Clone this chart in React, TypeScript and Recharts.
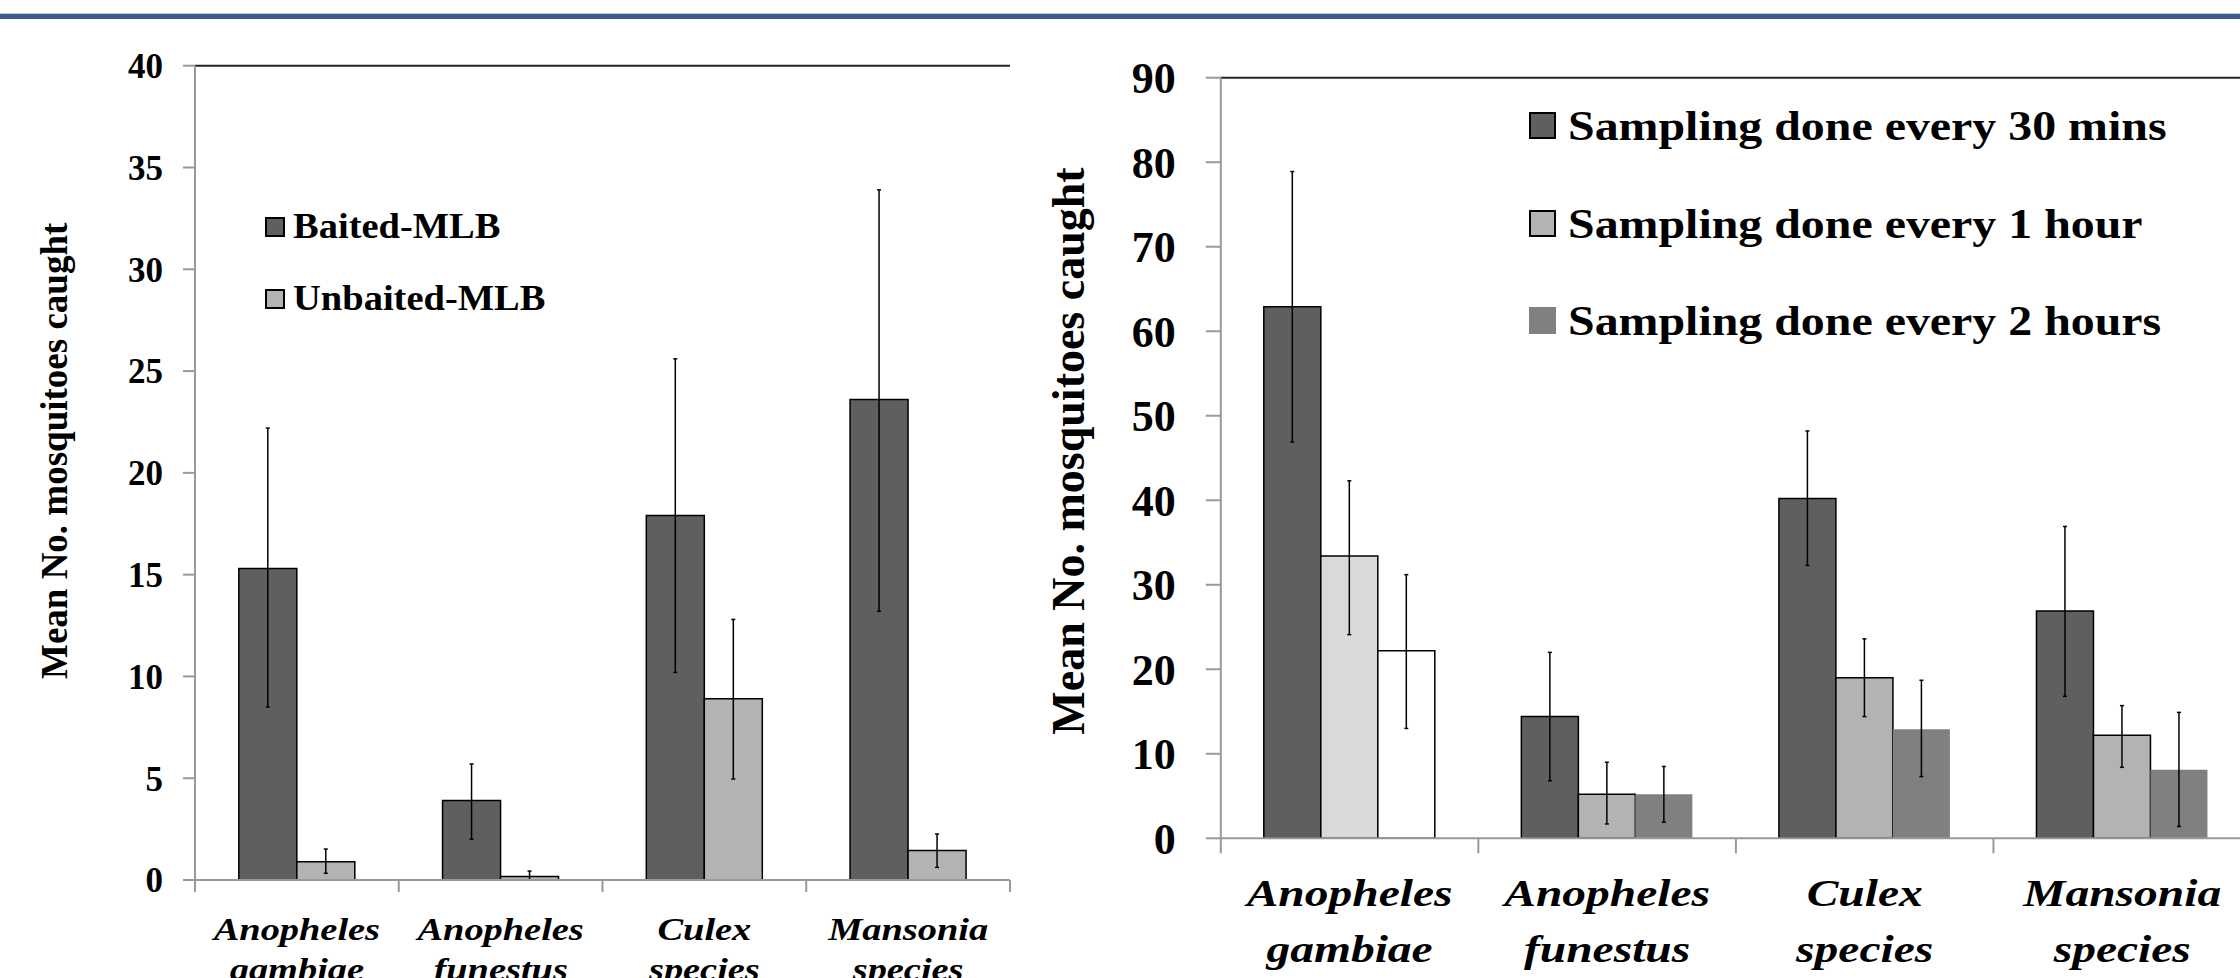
import React from 'react';
import { BarChart, Bar, XAxis, YAxis, ErrorBar, Cell, Legend, ReferenceLine } from 'recharts';

const categories = ['Anopheles gambiae', 'Anopheles funestus', 'Culex species', 'Mansonia species'];

// left panel: baited vs unbaited MLB (mean, lower and upper end of the error bar)
const baited = [15.3, 3.9, 17.9, 23.6];
const baitedLow = [8.5, 2.0, 10.2, 13.2];
const baitedHigh = [22.2, 5.7, 25.6, 33.9];
const unbaited = [0.9, 0.17, 8.9, 1.45];
const unbaitedLow = [0.33, 0.0, 4.96, 0.62];
const unbaitedHigh = [1.52, 0.44, 12.8, 2.26];
const leftTicks = [0, 5, 10, 15, 20, 25, 30, 35, 40];

// right panel: sampling interval
const min30 = [62.9, 14.4, 40.2, 26.9];
const min30Low = [46.9, 6.8, 32.3, 16.8];
const min30High = [78.9, 22.0, 48.2, 36.9];
const hour1 = [33.4, 5.2, 19.0, 12.2];
const hour1Low = [24.1, 1.7, 14.4, 8.4];
const hour1High = [42.3, 9.0, 23.6, 15.7];
const hour2 = [22.2, 5.2, 12.9, 8.1];
const hour2Low = [13.0, 1.9, 7.3, 1.4];
const hour2High = [31.2, 8.5, 18.7, 14.9];
const rightTicks = [0, 10, 20, 30, 40, 50, 60, 70, 80, 90];

const yLabel = 'Mean No. mosquitoes caught';

// legend keeps the series order, not alphabetical
const seriesOrder = ['baited', 'unbaited', 'min30', 'hour1', 'hour2'];

const errOf = (v: number[], lo: number[], hi: number[], i: number) => [v[i] - lo[i], hi[i] - v[i]];

const leftData = categories.map((name, i) => ({
  name,
  baited: baited[i],
  baitedErr: errOf(baited, baitedLow, baitedHigh, i),
  unbaited: unbaited[i],
  unbaitedErr: errOf(unbaited, unbaitedLow, unbaitedHigh, i),
}));

const rightData = categories.map((name, i) => ({
  name,
  min30: min30[i],
  min30Err: errOf(min30, min30Low, min30High, i),
  hour1: hour1[i],
  hour1Err: errOf(hour1, hour1Low, hour1High, i),
  hour2: hour2[i],
  hour2Err: errOf(hour2, hour2Low, hour2High, i),
}));

const SERIF = "'Liberation Serif', 'Times New Roman', serif";
const AXIS_GRAY = '#999';
const DARK = '#5f5f5f';
const LIGHT = '#b3b3b3';

const categoryTick = (o: { band: number; size: number; sx: number; base: number; gap: number; tick: number }) =>
  (props: any) => {
    const { x, y, payload, index } = props;
    const lines = String(payload.value).split(' ');
    const half = o.band / 2;
    return (
      <g>
        <line x1={x - half} x2={x - half} y1={y} y2={y + o.tick} stroke={AXIS_GRAY} strokeWidth={2} />
        {index === categories.length - 1 && (
          <line x1={x + half} x2={x + half} y1={y} y2={y + o.tick} stroke={AXIS_GRAY} strokeWidth={2} />
        )}
        {lines.map((l, i) => (
          <text
            key={i}
            transform={`translate(${x},${y + o.base + i * o.gap}) scale(${o.sx},1)`}
            textAnchor="middle"
            fontFamily={SERIF}
            fontSize={o.size}
            fontWeight="bold"
            fontStyle="italic"
            fill="#000"
          >
            {l}
          </text>
        ))}
      </g>
    );
  };

const legendContent = (o: { rows: number[]; box: number; gap: number; size: number; sx: number }) =>
  (props: any) => {
    const items = [...(props.payload || [])].sort(
      (a: any, b: any) => seriesOrder.indexOf(a.dataKey) - seriesOrder.indexOf(b.dataKey)
    );
    return (
      <div style={{ position: 'relative', width: 700, height: 400 }}>
        {items.map((it: any, i: number) => {
          const stroke = it.payload?.stroke;
          const bordered = stroke && stroke !== 'none';
          const lh = o.size * 1.2;
          return (
            <div
              key={i}
              style={{
                position: 'absolute',
                left: 0,
                top: o.rows[i] - lh / 2,
                height: lh,
                display: 'flex',
                alignItems: 'center',
                whiteSpace: 'nowrap',
              }}
            >
              <span
                style={{
                  display: 'inline-block',
                  width: o.box,
                  height: o.box,
                  boxSizing: 'border-box',
                  background: it.color,
                  border: bordered ? '2px solid #000' : 'none',
                }}
              />
              <span
                style={{
                  display: 'inline-block',
                  marginLeft: o.gap,
                  fontFamily: SERIF,
                  fontWeight: 'bold',
                  fontSize: o.size,
                  lineHeight: `${lh}px`,
                  color: '#000',
                  transform: `scaleX(${o.sx})`,
                  transformOrigin: 'left center',
                }}
              >
                {it.value}
              </span>
            </div>
          );
        })}
      </div>
    );
  };

const axisLabel = (o: { x: number; dy: number; size: number }) => (props: any) => {
  const vb = props.viewBox || {};
  const cx = (vb.x || 0) + o.x;
  const cy = (vb.y || 0) + (vb.height || 0) / 2 + o.dy;
  return (
    <text
      x={cx}
      y={cy}
      transform={`rotate(-90 ${cx} ${cy})`}
      textAnchor="middle"
      dominantBaseline="central"
      fontFamily={SERIF}
      fontSize={o.size}
      fontWeight="bold"
      fill="#000"
    >
      {yLabel}
    </text>
  );
};

const LeftChart = () => (
  <BarChart
    width={1040}
    height={978}
    data={leftData}
    margin={{ top: 65.7, right: 30, bottom: 0, left: 0 }}
    barCategoryGap="21.5%"
    barGap={0}
  >
    <XAxis
      dataKey="name"
      height={98}
      interval={0}
      tickLine={false}
      tickSize={0}
      tickMargin={0}
      axisLine={{ stroke: AXIS_GRAY, strokeWidth: 2 }}
      tick={categoryTick({ band: 815 / 4, size: 32, sx: 1.2, base: 60, gap: 40, tick: 12 })}
    />
    <YAxis
      width={195}
      domain={[0, 40]}
      ticks={leftTicks}
      interval={0}
      tickSize={12}
      tickMargin={20}
      axisLine={{ stroke: AXIS_GRAY, strokeWidth: 2 }}
      tickLine={{ stroke: AXIS_GRAY, strokeWidth: 2 }}
      tick={{ fontFamily: SERIF, fontSize: 35, fontWeight: 'bold', fill: '#000' }}
      label={axisLabel({ x: 55, dy: -22, size: 37 })}
    />
    <YAxis
      yAxisId="frame"
      orientation="right"
      width={0}
      domain={[0, 40]}
      tick={false}
      tickLine={false}
      axisLine={{ stroke: '#222', strokeWidth: 2 }}
    />
    <ReferenceLine y={40} stroke="#222" strokeWidth={2} />
    <Legend
      layout="vertical"
      align="center"
      verticalAlign="middle"
      itemSorter={(item: any) => seriesOrder.indexOf(item.dataKey)}
      wrapperStyle={{ left: 265, top: 0, width: 700, height: 400 }}
      content={legendContent({ rows: [227, 299], box: 20, gap: 8, size: 35, sx: 1.1 })}
    />
    <Bar dataKey="baited" name="Baited-MLB" fill={DARK} stroke="#000" strokeWidth={1.5} isAnimationActive={false}>
      <ErrorBar dataKey="baitedErr" width={2} stroke="#000" strokeWidth={1.5} />
    </Bar>
    <Bar dataKey="unbaited" name="Unbaited-MLB" fill={LIGHT} stroke="#000" strokeWidth={1.5} isAnimationActive={false}>
      <ErrorBar dataKey="unbaitedErr" width={2} stroke="#000" strokeWidth={1.5} />
    </Bar>
  </BarChart>
);

const RightChart = () => (
  <BarChart
    width={1261}
    height={978}
    data={rightData}
    margin={{ top: 77.7, right: 10, bottom: 0, left: 0 }}
    barCategoryGap="16.7%"
    barGap={0}
  >
    <XAxis
      dataKey="name"
      height={139.7}
      interval={0}
      tickLine={false}
      tickSize={0}
      tickMargin={0}
      axisLine={{ stroke: AXIS_GRAY, strokeWidth: 2 }}
      tick={categoryTick({ band: 1030.2 / 4, size: 38, sx: 1.25, base: 68, gap: 56, tick: 15 })}
    />
    <YAxis
      width={220.8}
      domain={[0, 90]}
      ticks={rightTicks}
      interval={0}
      tickSize={15}
      tickMargin={30}
      axisLine={{ stroke: AXIS_GRAY, strokeWidth: 2 }}
      tickLine={{ stroke: AXIS_GRAY, strokeWidth: 2 }}
      tick={{ fontFamily: SERIF, fontSize: 44, fontWeight: 'bold', fill: '#000' }}
      label={axisLabel({ x: 68, dy: -7, size: 46 })}
    />
    <ReferenceLine y={90} stroke="#222" strokeWidth={2} />
    <Legend
      layout="vertical"
      align="center"
      verticalAlign="middle"
      itemSorter={(item: any) => seriesOrder.indexOf(item.dataKey)}
      wrapperStyle={{ left: 529, top: 0, width: 700, height: 400 }}
      content={legendContent({ rows: [126, 224, 321], box: 27, gap: 12, size: 42, sx: 1.14 })}
    />
    <Bar dataKey="min30" name="Sampling done every 30 mins" fill={DARK} stroke="#000" strokeWidth={1.5} isAnimationActive={false}>
      <ErrorBar dataKey="min30Err" width={2} stroke="#000" strokeWidth={1.5} />
    </Bar>
    <Bar dataKey="hour1" name="Sampling done every 1 hour" fill={LIGHT} stroke="#000" strokeWidth={1.5} isAnimationActive={false}>
      {rightData.map((d, i) => (
        <Cell key={d.name} fill={i === 0 ? '#d9d9d9' : LIGHT} />
      ))}
      <ErrorBar dataKey="hour1Err" width={2} stroke="#000" strokeWidth={1.5} />
    </Bar>
    <Bar dataKey="hour2" name="Sampling done every 2 hours" fill="#808080" stroke="none" isAnimationActive={false}>
      {rightData.map((d, i) => (
        <Cell
          key={d.name}
          fill={i === 0 ? '#ffffff' : '#808080'}
          stroke={i === 0 ? '#000' : 'none'}
          strokeWidth={1.5}
        />
      ))}
      <ErrorBar dataKey="hour2Err" width={2} stroke="#000" strokeWidth={1.5} />
    </Bar>
  </BarChart>
);

export default function App() {
  return (
    <div
      style={{
        position: 'fixed',
        left: 0,
        top: 0,
        width: 2240,
        height: 978,
        overflow: 'hidden',
        background: '#fff',
      }}
    >
      <div style={{ position: 'absolute', left: 0, top: 13, width: 2240, height: 1, background: '#c4c9d2' }} />
      <div style={{ position: 'absolute', left: 0, top: 14, width: 2240, height: 5, background: '#3a5d8c' }} />
      <div style={{ position: 'absolute', left: 0, top: 0 }}>
        <LeftChart />
      </div>
      <div style={{ position: 'absolute', left: 1000, top: 0 }}>
        <RightChart />
      </div>
    </div>
  );
}
